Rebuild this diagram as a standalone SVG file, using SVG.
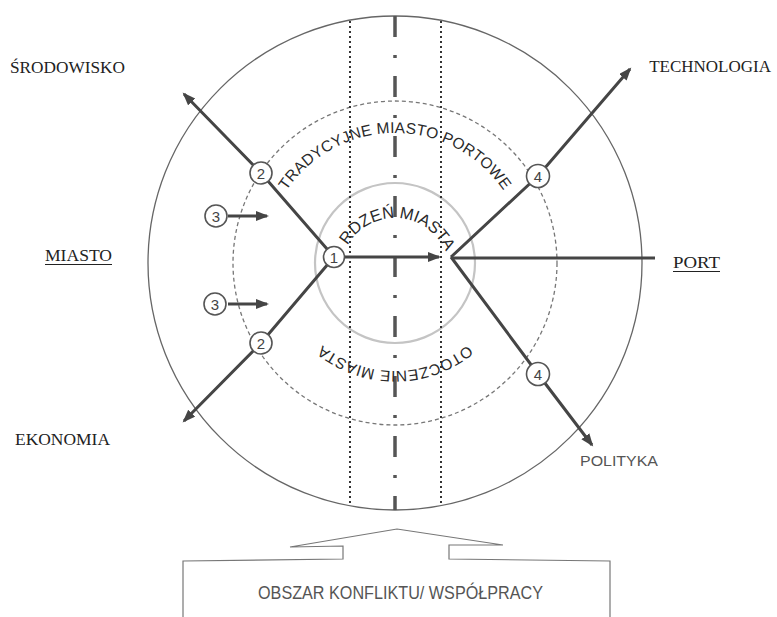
<svg xmlns="http://www.w3.org/2000/svg" width="777" height="617" viewBox="0 0 777 617">
<style>
.lbl{font-family:"Liberation Serif","DejaVu Serif",serif;font-size:17px;fill:#222}
.sans{font-family:"Liberation Sans","Open Sans",sans-serif;fill:#555}
.arc{font-family:"Liberation Sans","DejaVu Sans",sans-serif;fill:#2a2a2a}
.conn{stroke:#454545;stroke-width:3;fill:none}
.nd circle{fill:#fff;stroke:#555;stroke-width:1.6}
.nd text{font-family:"Liberation Sans",sans-serif;font-size:15px;fill:#444;text-anchor:middle}
</style>
<defs>
<marker id="ah" markerUnits="userSpaceOnUse" markerWidth="14" markerHeight="12" refX="11" refY="5" orient="auto">
<path d="M0,0 L13,5 L0,10 z" fill="#454545"/>
</marker>
<path id="arcTop" d="M 264,264 A 131,131 0 0 1 526,264"/>
<path id="arcCore" d="M 340,273 A 55,55 0 0 1 450,273"/>
<path id="arcBottom" d="M 509,257 A 114,114 0 0 1 281,257"/>
</defs>
<rect width="777" height="617" fill="#fff"/>
<g id="zones" fill="none">
<circle cx="395" cy="263" r="247" stroke="#666" stroke-width="1.3"/>
<circle cx="395" cy="263" r="162" stroke="#777" stroke-width="1.3" stroke-dasharray="4 3"/>
<circle cx="395" cy="263" r="80" stroke="#c4c4c4" stroke-width="2.2"/>
<line x1="350" y1="21" x2="350" y2="505" stroke="#333" stroke-width="2" stroke-dasharray="2 3"/>
<line x1="441" y1="21" x2="441" y2="505" stroke="#333" stroke-width="2" stroke-dasharray="2 3"/>
<line x1="395" y1="16" x2="395" y2="510" stroke="#555" stroke-width="3.5" stroke-dasharray="21 18 3 18"/>
</g>
<g id="arc-labels" class="arc">
<text font-size="15.5" letter-spacing="0.2"><textPath href="#arcTop" startOffset="50%" text-anchor="middle">TRADYCYJNE MIASTO PORTOWE</textPath></text>
<text font-size="16.5"><textPath href="#arcCore" startOffset="52%" text-anchor="middle">RDZEŃ MIASTA</textPath></text>
<text font-size="15.5" letter-spacing="0.4"><textPath href="#arcBottom" startOffset="50%" text-anchor="middle">OTOCZENIE MIASTA</textPath></text>
</g>
<g id="connectors">
<polyline class="conn" points="334,257 261,173 184,94" marker-end="url(#ah)"/>
<polyline class="conn" points="334,257 261,343 184,421" marker-end="url(#ah)"/>
<line class="conn" x1="344" y1="257" x2="439" y2="257" marker-end="url(#ah)"/>
<line class="conn" x1="228" y1="216" x2="267" y2="216" marker-end="url(#ah)"/>
<line class="conn" x1="228" y1="304" x2="267" y2="304" marker-end="url(#ah)"/>
<polyline class="conn" points="451,257 538,176 630,69" marker-end="url(#ah)"/>
<polyline class="conn" points="451,257 538,374 592,445" marker-end="url(#ah)"/>
<line class="conn" x1="451" y1="258" x2="655" y2="258"/>
</g>
<g id="node-1" class="nd"><circle cx="334" cy="257" r="10.5"/><text x="334" y="262.5">1</text></g>
<g id="node-2a" class="nd"><circle cx="261" cy="173" r="11"/><text x="261" y="178.5">2</text></g>
<g id="node-2b" class="nd"><circle cx="261" cy="343" r="11"/><text x="261" y="348.5">2</text></g>
<g id="node-3a" class="nd"><circle cx="216" cy="216" r="11"/><text x="216" y="221.5">3</text></g>
<g id="node-3b" class="nd"><circle cx="215" cy="304" r="11"/><text x="215" y="309.5">3</text></g>
<g id="node-4a" class="nd"><circle cx="538" cy="176" r="11.5"/><text x="538" y="181.5">4</text></g>
<g id="node-4b" class="nd"><circle cx="538" cy="374" r="11.5"/><text x="538" y="379.5">4</text></g>
<g id="labels">
<text class="lbl" x="10" y="73" textLength="115" lengthAdjust="spacingAndGlyphs">ŚRODOWISKO</text>
<text class="lbl" x="771" y="72" font-size="14" text-anchor="end">TECHNOLOGIA</text>
<text class="lbl" x="45" y="261" textLength="67" lengthAdjust="spacingAndGlyphs">MIASTO</text>
<line x1="45" y1="264.5" x2="112" y2="264.5" stroke="#222" stroke-width="1.2"/>
<text class="lbl" x="673" y="268" textLength="47" lengthAdjust="spacingAndGlyphs">PORT</text>
<line x1="673" y1="271.5" x2="720" y2="271.5" stroke="#222" stroke-width="1.2"/>
<text class="lbl" x="15" y="445" textLength="95" lengthAdjust="spacingAndGlyphs">EKONOMIA</text>
<text class="sans" x="580" y="466" font-size="15" textLength="78" lengthAdjust="spacingAndGlyphs">POLITYKA</text>
</g>
<g id="conflict-area">
<path d="M183,617 L183,561 L343,559 L343,546 L290,547 L397,529 L503,545 L449,545 L449,559 L610,561 L610,617" fill="none" stroke="#777" stroke-width="1.2"/>
<text class="sans" x="258" y="599" font-size="18" textLength="285" lengthAdjust="spacingAndGlyphs">OBSZAR KONFLIKTU/ WSPÓŁPRACY</text>
</g>
</svg>
